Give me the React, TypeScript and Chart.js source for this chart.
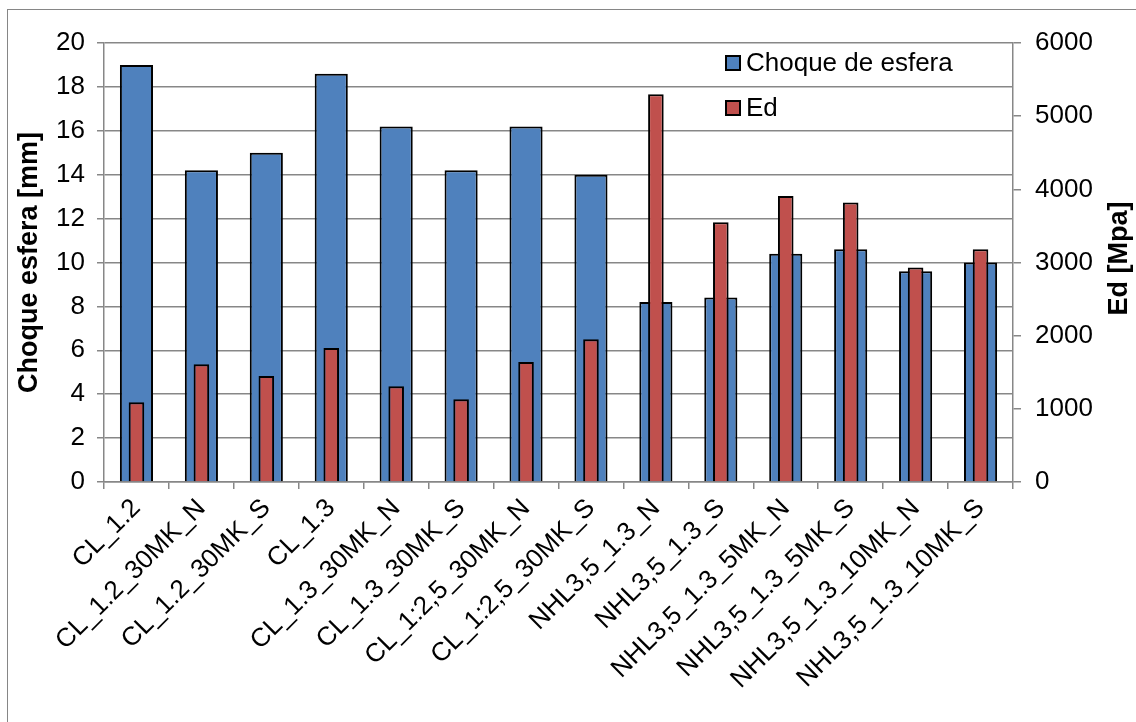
import React, { useEffect, useRef } from "react";
import { Chart, registerables } from "chart.js";

Chart.register(...registerables);

const categories = [
  "CL_1.2",
  "CL_1.2_30MK_N",
  "CL_1.2_30MK_S",
  "CL_1.3",
  "CL_1.3_30MK_N",
  "CL_1.3_30MK_S",
  "CL_1:2,5_30MK_N",
  "CL_1:2,5_30MK_S",
  "NHL3,5_1.3_N",
  "NHL3,5_1.3_S",
  "NHL3,5_1.3_5MK_N",
  "NHL3,5_1.3_5MK_S",
  "NHL3,5_1.3_10MK_N",
  "NHL3,5_1.3_10MK_S",
];

const choqueValues = [19, 14.2, 15, 18.6, 16.2, 14.2, 16.2, 14, 8.2, 8.4, 10.4, 10.6, 9.6, 10.0];
const edValues = [1090, 1610, 1450, 1830, 1310, 1130, 1640, 1950, 5300, 3550, 3910, 3820, 2930, 3180];

const seriesNames = ["Choque de esfera", "Ed"];
const seriesColors = ["#4F81BD", "#C0504D"];
const leftTitle = "Choque esfera [mm]";
const rightTitle = "Ed [Mpa]";

const FONT = "'Liberation Sans', Arial, sans-serif";
const GRID = "#878787";
const FS = 26;

export default function App() {
  const ref = useRef<HTMLCanvasElement>(null);

  useEffect(() => {
    const overlay = {
      id: "overlay",
      afterDraw(chart: any) {
        const ctx = chart.ctx;
        const area = chart.chartArea;
        ctx.save();
        ctx.fillStyle = "#000";
        ctx.font = `bold 27px ${FONT}`;
        ctx.textAlign = "center";
        ctx.textBaseline = "middle";
        const cy = (area.top + area.bottom) / 2;
        ctx.save();
        ctx.translate(22, cy);
        ctx.rotate(-Math.PI / 2);
        ctx.fillText(leftTitle, 0, 0);
        ctx.restore();
        ctx.save();
        ctx.translate(1112, cy - 4);
        ctx.rotate(-Math.PI / 2);
        ctx.fillText(rightTitle, 0, 0);
        ctx.restore();
        ctx.font = `${FS}px ${FONT}`;
        ctx.textAlign = "left";
        ctx.textBaseline = "middle";
        const lx = 718;
        const ys = [53, 98];
        seriesNames.forEach((name, i) => {
          ctx.fillStyle = seriesColors[i];
          ctx.fillRect(lx, ys[i] - 7, 14, 14);
          ctx.strokeStyle = "#000";
          ctx.lineWidth = 2;
          ctx.strokeRect(lx, ys[i] - 7, 14, 14);
          ctx.fillStyle = "#000";
          ctx.fillText(name, lx + 20, ys[i] + 1);
        });
        ctx.restore();
      },
    };

    const chart = new Chart(ref.current!, {
      type: "bar",
      data: {
        labels: categories,
        datasets: [
          {
            label: seriesNames[0],
            data: choqueValues,
            yAxisID: "y",
            backgroundColor: seriesColors[0],
            borderColor: "#000",
            borderWidth: 2,
            grouped: false,
            barPercentage: 0.51,
            categoryPercentage: 1,
            order: 2,
          } as any,
          {
            label: seriesNames[1],
            data: edValues,
            yAxisID: "y1",
            backgroundColor: seriesColors[1],
            borderColor: "#000",
            borderWidth: 2,
            grouped: false,
            barPercentage: 0.24,
            categoryPercentage: 1,
            order: 1,
          } as any,
        ],
      },
      options: {
        responsive: false,
        animation: false,
        layout: { padding: { top: 33, left: 0, right: 0, bottom: 0 } },
        plugins: {
          legend: { display: false },
          tooltip: { enabled: false },
        },
        scales: {
          x: {
            grid: { drawOnChartArea: false, offset: true, tickLength: 7, color: GRID, lineWidth: 1.5 },
            border: { color: GRID, width: 1.5 },
            ticks: {
              autoSkip: false,
              maxRotation: 45,
              minRotation: 45,
              color: "#000",
              padding: 4,
              font: { family: FONT, size: FS },
            },
            afterFit: (s: any) => {
              s.height = 240;
            },
          },
          y: {
            position: "left",
            min: 0,
            max: 20,
            ticks: { stepSize: 2, color: "#000", padding: 12, font: { family: FONT, size: FS } },
            grid: { color: GRID, tickLength: 7, lineWidth: 1.5 },
            border: { color: GRID, width: 1.5 },
            afterFit: (s: any) => {
              s.width = 96;
            },
          },
          y1: {
            position: "right",
            min: 0,
            max: 6000,
            ticks: {
              stepSize: 1000,
              color: "#000",
              padding: 14,
              font: { family: FONT, size: FS },
              callback: (v: any) => String(v),
            },
            grid: { drawOnChartArea: false, tickLength: 8, color: GRID, lineWidth: 1.5 },
            border: { color: GRID, width: 1.5 },
            afterFit: (s: any) => {
              s.width = 123;
            },
          },
        },
      } as any,
      plugins: [overlay],
    });
    return () => chart.destroy();
  }, []);

  return (
    <div
      style={{
        position: "fixed",
        left: 7,
        top: 9,
        width: 1150,
        height: 740,
        border: "1px solid #868686",
        background: "#fff",
      }}
    >
      <canvas ref={ref} width={1128} height={712} style={{ display: "block", width: 1128, height: 712 }} />
    </div>
  );
}
